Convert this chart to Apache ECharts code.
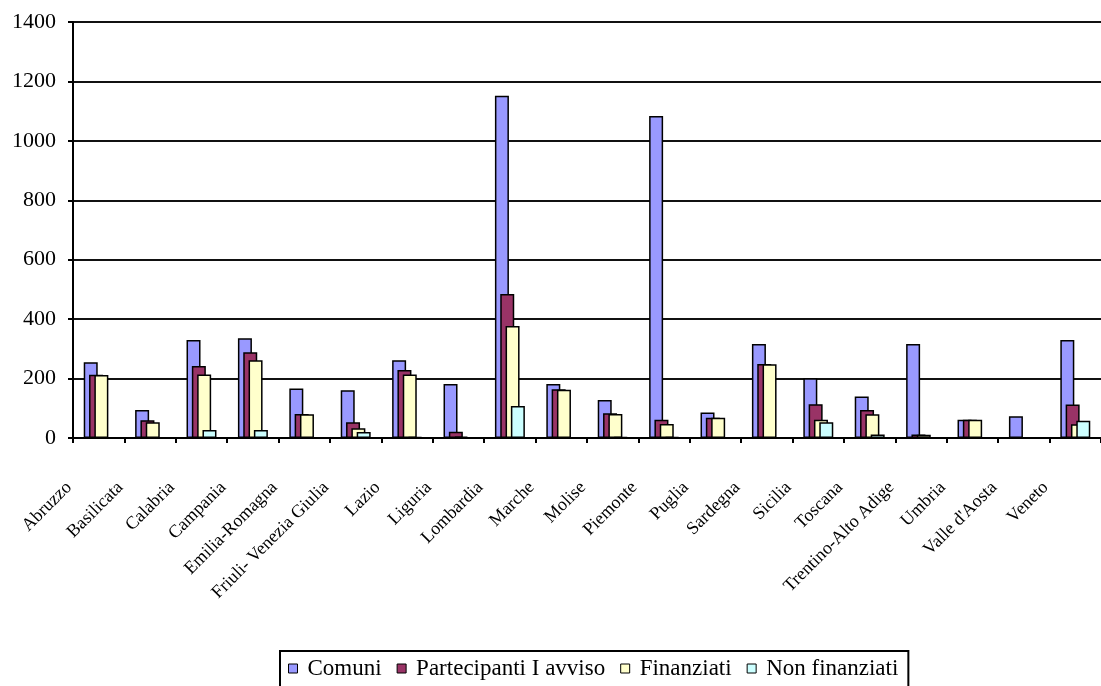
<!DOCTYPE html>
<html>
<head>
<meta charset="utf-8">
<script src="https://cdn.jsdelivr.net/npm/echarts@6/dist/echarts.min.js"></script>
<style>
html,body{margin:0;padding:0;background:#fff;}
#chart{width:1101px;height:686px;}
</style>
</head>
<body>
<div id="chart"></div>
<script>
const categories = ['Abruzzo','Basilicata','Calabria','Campania','Emilia-Romagna','Friuli- Venezia Giulia','Lazio','Liguria','Lombardia','Marche','Molise','Piemonte','Puglia','Sardegna','Sicilia','Toscana','Trentino-Alto Adige','Umbria',"Valle d'Aosta",'Veneto'];
const seriesNames = ['Comuni','Partecipanti I avviso','Finanziati','Non finanziati'];
const comuni = [255, 94, 330, 336, 167, 161, 262, 182, 1152, 182, 128, 1084, 86, 316, 201, 140, 316, 61, 73, 330];
const partecipanti = [213, 60, 242, 289, 81, 53, 229, 21, 485, 164, 83, 61, 68, 249, 114, 94, 12, 61, 0, 113];
const finanziati = [212, 53, 214, 262, 80, 33, 214, 5, 377, 162, 81, 47, 68, 248, 61, 80, 11, 61, 0, 46];
const nonFinanziati = [0, 0, 27, 27, 0, 20, 3, 2, 108, 0, 3, 3, 0, 0, 53, 12, 0, 0, 0, 58];
const yTicks = [0, 200, 400, 600, 800, 1000, 1200, 1400];

const colors = ['#9999FF', '#993366', '#FFFFCC', '#CCFFFF'];
const values = [comuni, partecipanti, finanziati, nonFinanziati];
const font = 'Liberation Serif';

const chart = echarts.init(document.getElementById('chart'));
chart.setOption({
  animation: false,
  backgroundColor: '#fff',
  grid: { left: 73, top: 22, bottom: 248, right: -12, containLabel: false },
  legend: {
    left: 280, top: 651,
    data: seriesNames,
    itemWidth: 9, itemHeight: 9, itemGap: 15,
    icon: 'rect',
    padding: [6, 10, 20, 8],
    borderColor: '#000', borderWidth: 2,
    textStyle: { fontFamily: font, fontSize: 23, color: '#000', padding: [0, 0, 0, 5] },
    itemStyle: { borderColor: '#000', borderWidth: 1 }
  },
  xAxis: {
    type: 'category',
    data: categories,
    boundaryGap: true,
    axisLine: { lineStyle: { color: '#000', width: 2 } },
    axisTick: { show: true, length: 5, lineStyle: { color: '#000', width: 2 } },
    axisLabel: {
      interval: 0, rotate: 45, margin: 17,
      padding: [0, 42, 0, 0],
      fontFamily: font, fontSize: 18, color: '#000'
    }
  },
  yAxis: {
    type: 'value',
    min: yTicks[0], max: yTicks[yTicks.length - 1], interval: 200,
    axisLine: { show: true, lineStyle: { color: '#000', width: 2 } },
    axisTick: { show: true, length: 5, lineStyle: { color: '#000', width: 2 } },
    splitLine: { show: true, lineStyle: { color: '#111', width: 2 } },
    axisLabel: { margin: 17, fontFamily: font, fontSize: 22, color: '#000', formatter: v => String(v) }
  },
  series: seriesNames.map((name, i) => ({
    name: name,
    type: 'bar',
    data: values[i],
    barWidth: 14,
    barGap: '-62%',
    itemStyle: { color: colors[i], borderColor: '#000', borderWidth: 1.5 }
  }))
});
</script>
</body>
</html>
